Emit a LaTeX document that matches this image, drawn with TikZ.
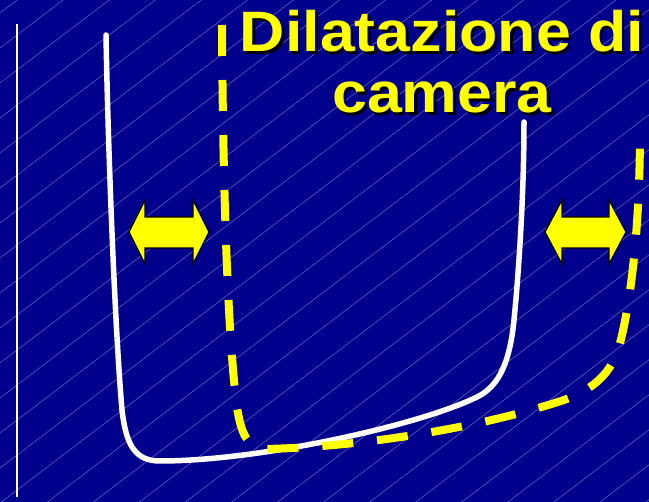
\documentclass[tikz,border=0pt]{standalone}
\usepackage{fontspec}
\setmainfont{Liberation Sans}
\definecolor{bgblue}{RGB}{0,0,140}
\definecolor{hatch}{RGB}{105,105,195}
\definecolor{ppyellow}{RGB}{255,255,0}
\tikzset{
  hatchline/.style={draw=hatch, line width=0.5pt},
  whitecurve/.style={draw=white, line width=5.5pt, line cap=round},
  yellowdash/.style={draw=ppyellow, line width=8pt, dash pattern=on 31pt off 24pt},
  dblarrow/.style={fill=ppyellow, draw=black, line width=1.2pt, line join=miter},
  titletext/.style={font=\fontsize{57}{68}\selectfont\bfseries, xscale=1.1, anchor=base, inner sep=0pt},
}
\begin{document}
\begin{tikzpicture}[x=1pt,y=-1pt]
\useasboundingbox (0,0) rectangle (649,502);
\fill[bgblue] (0,0) rectangle (649,502);
\begin{scope}
  \clip (0,0) rectangle (649,502);
  \foreach \k in {-1,...,29} {
    \draw[hatchline] (0,{13+35*\k}) -- (700,{13+35*\k-0.76*700});
  }
\end{scope}
% thin vertical line
\coordinate (vtop) at (17,24);
\coordinate (vbot) at (17,497);
\draw[white, line width=1.6pt] (vtop) -- (vbot);
% white curve
\draw[whitecurve] (106,35) .. controls (108,150) and (115,330) .. (122,410)
  .. controls (126,445) and (135,461) .. (160,461)
  .. controls (260,461) and (420,425) .. (477,397)
  .. controls (500,386) and (510,360) .. (514,320)
  .. controls (518,280) and (524,200) .. (524,122);
% yellow dashed curve
\draw[yellowdash] (222,25) .. controls (223,200) and (228,330) .. (236,400)
  .. controls (240,430) and (245,447) .. (265,449)
  .. controls (360,447) and (480,428) .. (564,400)
  .. controls (590,391) and (610,375) .. (618,350)
  .. controls (626,325) and (640,250) .. (640,130);
% double arrows
\draw[dblarrow] (129,232) -- (145,200) -- (145,217) -- (193,217) -- (193,200) -- (209,232)
  -- (193,264) -- (193,248) -- (145,248) -- (145,264) -- cycle;
\draw[dblarrow] (545,232) -- (562,200) -- (562,217) -- (609,217) -- (609,200) -- (626,232)
  -- (609,264) -- (609,248) -- (562,248) -- (562,264) -- cycle;
% title
\node[titletext, text=black] (t1s) at (444.5,54.5) {Dilatazione di};
\node[titletext, text=ppyellow] (t1) at (442,52) {Dilatazione di};
\node[titletext, text=black] (t2s) at (444.5,115.5) {camera};
\node[titletext, text=ppyellow] (t2) at (442,113) {camera};
\end{tikzpicture}
\end{document}
